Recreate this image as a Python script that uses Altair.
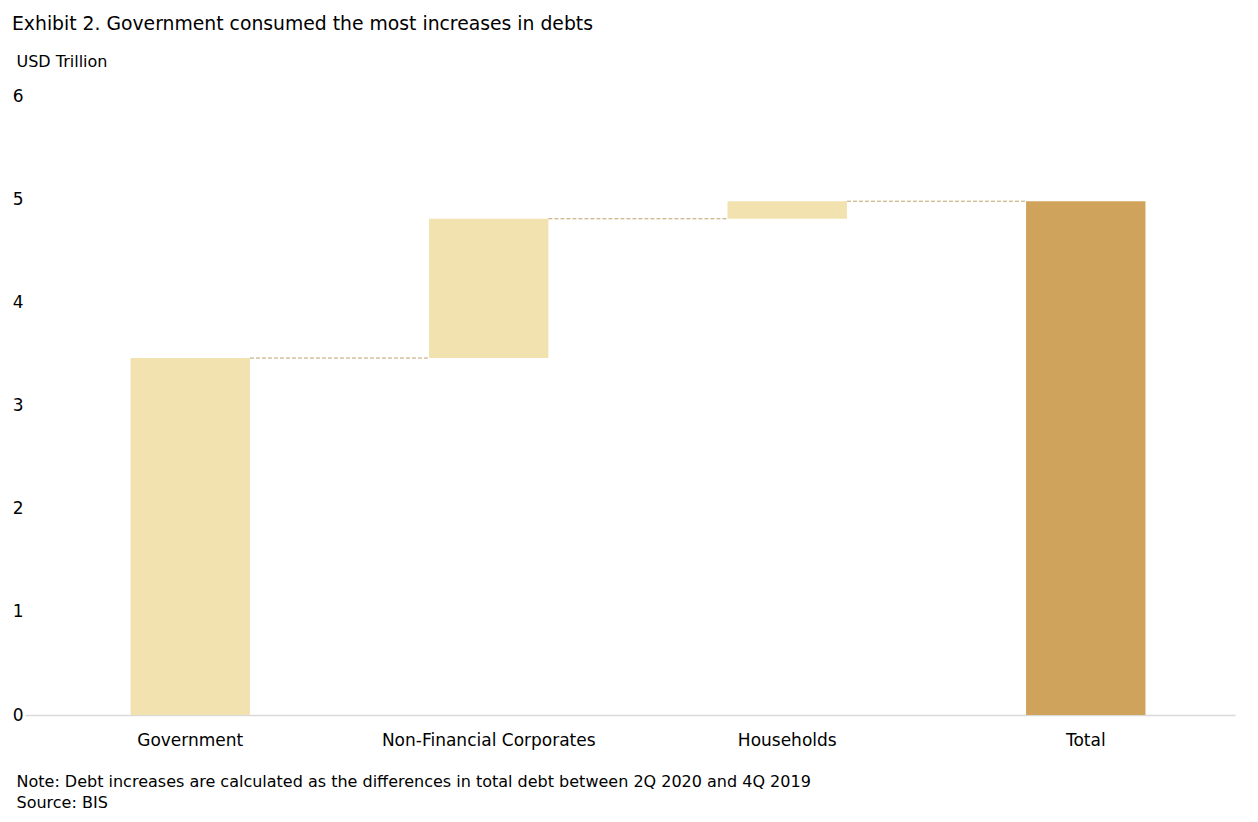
import altair as alt
import pandas as pd

categories = ["Government", "Non-Financial Corporates", "Households", "Total"]
increments = [3.46, 1.35, 0.17]
light = "#F2E2B0"
dark = "#CFA35B"
FONT = "DejaVu Sans"

# build waterfall table
starts, ends = [], []
level = 0.0
for v in increments:
    starts.append(level)
    level += v
    ends.append(level)
total = level
bars = pd.DataFrame({
    "cat": categories,
    "start": starts + [0.0],
    "end": ends + [total],
    "kind": ["step"] * len(increments) + ["total"],
})
links = pd.DataFrame({
    "cat": categories[:-1],
    "next": categories[1:],
    "level": ends,
})

xscale = alt.Scale(domain=categories, paddingInner=0.6, paddingOuter=0.3268, align=0.541)
yscale = alt.Scale(domain=[0, 6], nice=False)

bar = alt.Chart(bars).mark_bar().encode(
    x=alt.X("cat:N", sort=categories, scale=xscale,
            axis=alt.Axis(title=["Note: Debt increases are calculated as the differences in total debt between 2Q 2020 and 4Q 2019",
                                 "Source: BIS"],
                          titleX=-9, titleY=71, titleAlign="left", titleAnchor="start",
                          titleBaseline="alphabetic", titleFont=FONT, titleFontSize=16,
                          titleFontWeight="normal", titleColor="#000000", titleLineHeight=21,
                          labelAngle=0, labelFont=FONT, labelFontSize=17, labelColor="#000000",
                          labelLimit=0, labelPadding=17, ticks=False, domainColor="#D9D9D9",
                          domainWidth=1.5)),
    y=alt.Y("start:Q", scale=yscale,
            axis=alt.Axis(title="USD Trillion", titleX=-9, titleY=-30, titleAngle=0,
                          titleAlign="left", titleBaseline="alphabetic", titleFont=FONT,
                          titleFontSize=16, titleFontWeight="normal", titleColor="#000000",
                          values=[0, 1, 2, 3, 4, 5, 6], format="d", grid=False, domain=False,
                          ticks=False, labelFont=FONT, labelFontSize=17, labelColor="#000000",
                          labelPadding=2, labelAlign="right")),
    y2="end:Q",
    color=alt.Color("kind:N", scale=alt.Scale(domain=["step", "total"], range=[light, dark]), legend=None),
)

rule = alt.Chart(links).mark_rule(color="#BFA06A", strokeDash=[4, 2], strokeWidth=1).encode(
    x=alt.X("cat:N", sort=categories, bandPosition=1),
    x2=alt.X2("next", bandPosition=0),
    y="level:Q",
)

chart = alt.layer(bar, rule).properties(
    width=1210, height=619,
    padding={"left": 17, "top": 88, "right": 15, "bottom": 98},
    autosize=alt.AutoSizeParams(type="none"),
    title=alt.TitleParams("Exhibit 2. Government consumed the most increases in debts",
                          anchor="start", frame="group", font=FONT, fontSize=18.8,
                          fontWeight="normal", color="#000000", dx=-13, offset=19),
).configure_view(stroke=None)

chart.save("out.html", embed_options={"renderer": "svg", "actions": False})
